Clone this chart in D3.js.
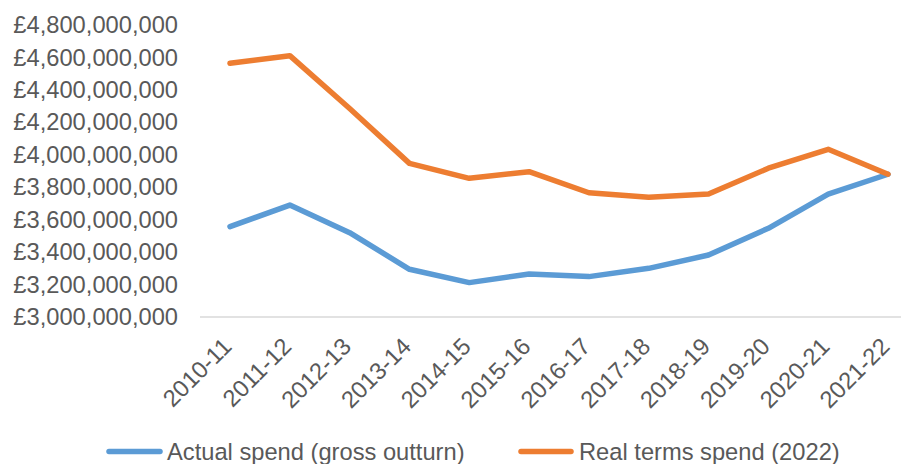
<!DOCTYPE html>
<html>
<head>
<meta charset="utf-8">
<script src="https://cdn.jsdelivr.net/npm/d3@7"></script>
<style>
  html, body { margin: 0; padding: 0; background: #fff; }
  svg { display: block; font-family: "Liberation Sans", Arial, sans-serif; }
</style>
</head>
<body>
<svg id="chart" width="901" height="464"></svg>
<script>
const categories = ["2010-11","2011-12","2012-13","2013-14","2014-15","2015-16","2016-17","2017-18","2018-19","2019-20","2020-21","2021-22"];
const actualSpend = [3557000000, 3690000000, 3520000000, 3294000000, 3212000000, 3265000000, 3249000000, 3300000000, 3382000000, 3547000000, 3758000000, 3880000000];
const realTermsSpend = [4564000000, 4611000000, 4285000000, 3947000000, 3855000000, 3896000000, 3766000000, 3738000000, 3758000000, 3917000000, 4034000000, 3880000000];
const yTicks = [3000000000, 3200000000, 3400000000, 3600000000, 3800000000, 4000000000, 4200000000, 4400000000, 4600000000, 4800000000];
const seriesNames = ["Actual spend (gross outturn)", "Real terms spend (2022)"];
const seriesColors = ["#5B9BD5", "#ED7D31"];

const svg = d3.select("#chart");
const textColor = "#595959";
const fontSize = "23.7px";

const x = d3.scalePoint().domain(categories).range([230, 888]);
const y = d3.scaleLinear().domain([3000000000, 4800000000]).range([317, 25]);

const fmt = v => "£" + d3.format(",")(v);

// Y axis labels
const yAxis = d3.axisLeft(y).tickValues(yTicks).tickFormat(fmt).tickSize(0).tickPadding(0);
const yg = svg.append("g").attr("transform", "translate(178,0)").call(yAxis);
yg.select(".domain").remove();
yg.selectAll("text").attr("fill", textColor).style("font-size", fontSize)
  .style("font-family", "'Liberation Sans', Arial, sans-serif");

// X axis baseline
svg.append("line").attr("x1", 200).attr("x2", 901).attr("y1", y(3000000000)).attr("y2", y(3000000000))
  .attr("stroke", "#D9D9D9").attr("stroke-width", 1.5);

// X axis labels
const xAxis = d3.axisBottom(x).tickSize(0).tickPadding(0);
const xg = svg.append("g").call(xAxis);
xg.select(".domain").remove();
xg.selectAll(".tick").attr("transform", null);
xg.selectAll(".tick text")
  .attr("fill", textColor).style("font-size", fontSize)
  .style("font-family", "'Liberation Sans', Arial, sans-serif")
  .attr("text-anchor", "end").attr("dy", 0).attr("y", 0)
  .attr("transform", d => `translate(${x(d) + 3},348) rotate(-45)`);

// Lines
const line = d3.line().x((d, i) => x(categories[i])).y(d => y(d));
[actualSpend, realTermsSpend].forEach((s, i) => {
  svg.append("path").datum(s).attr("d", line).attr("fill", "none")
    .attr("stroke", seriesColors[i]).attr("stroke-width", 5.5)
    .attr("stroke-linejoin", "round").attr("stroke-linecap", "round");
});

// Legend
const legendItems = [
  {x1: 109, x2: 160, tx: 167},
  {x1: 521, x2: 571, tx: 579}
];
legendItems.forEach((p, i) => {
  svg.append("line").attr("x1", p.x1).attr("x2", p.x2).attr("y1", 451.5).attr("y2", 451.5)
    .attr("stroke", seriesColors[i]).attr("stroke-width", 5.5).attr("stroke-linecap", "round");
  svg.append("text").attr("x", p.tx).attr("y", 459.5).attr("fill", textColor)
    .style("font-size", fontSize).text(seriesNames[i]);
});
</script>
</body>
</html>
